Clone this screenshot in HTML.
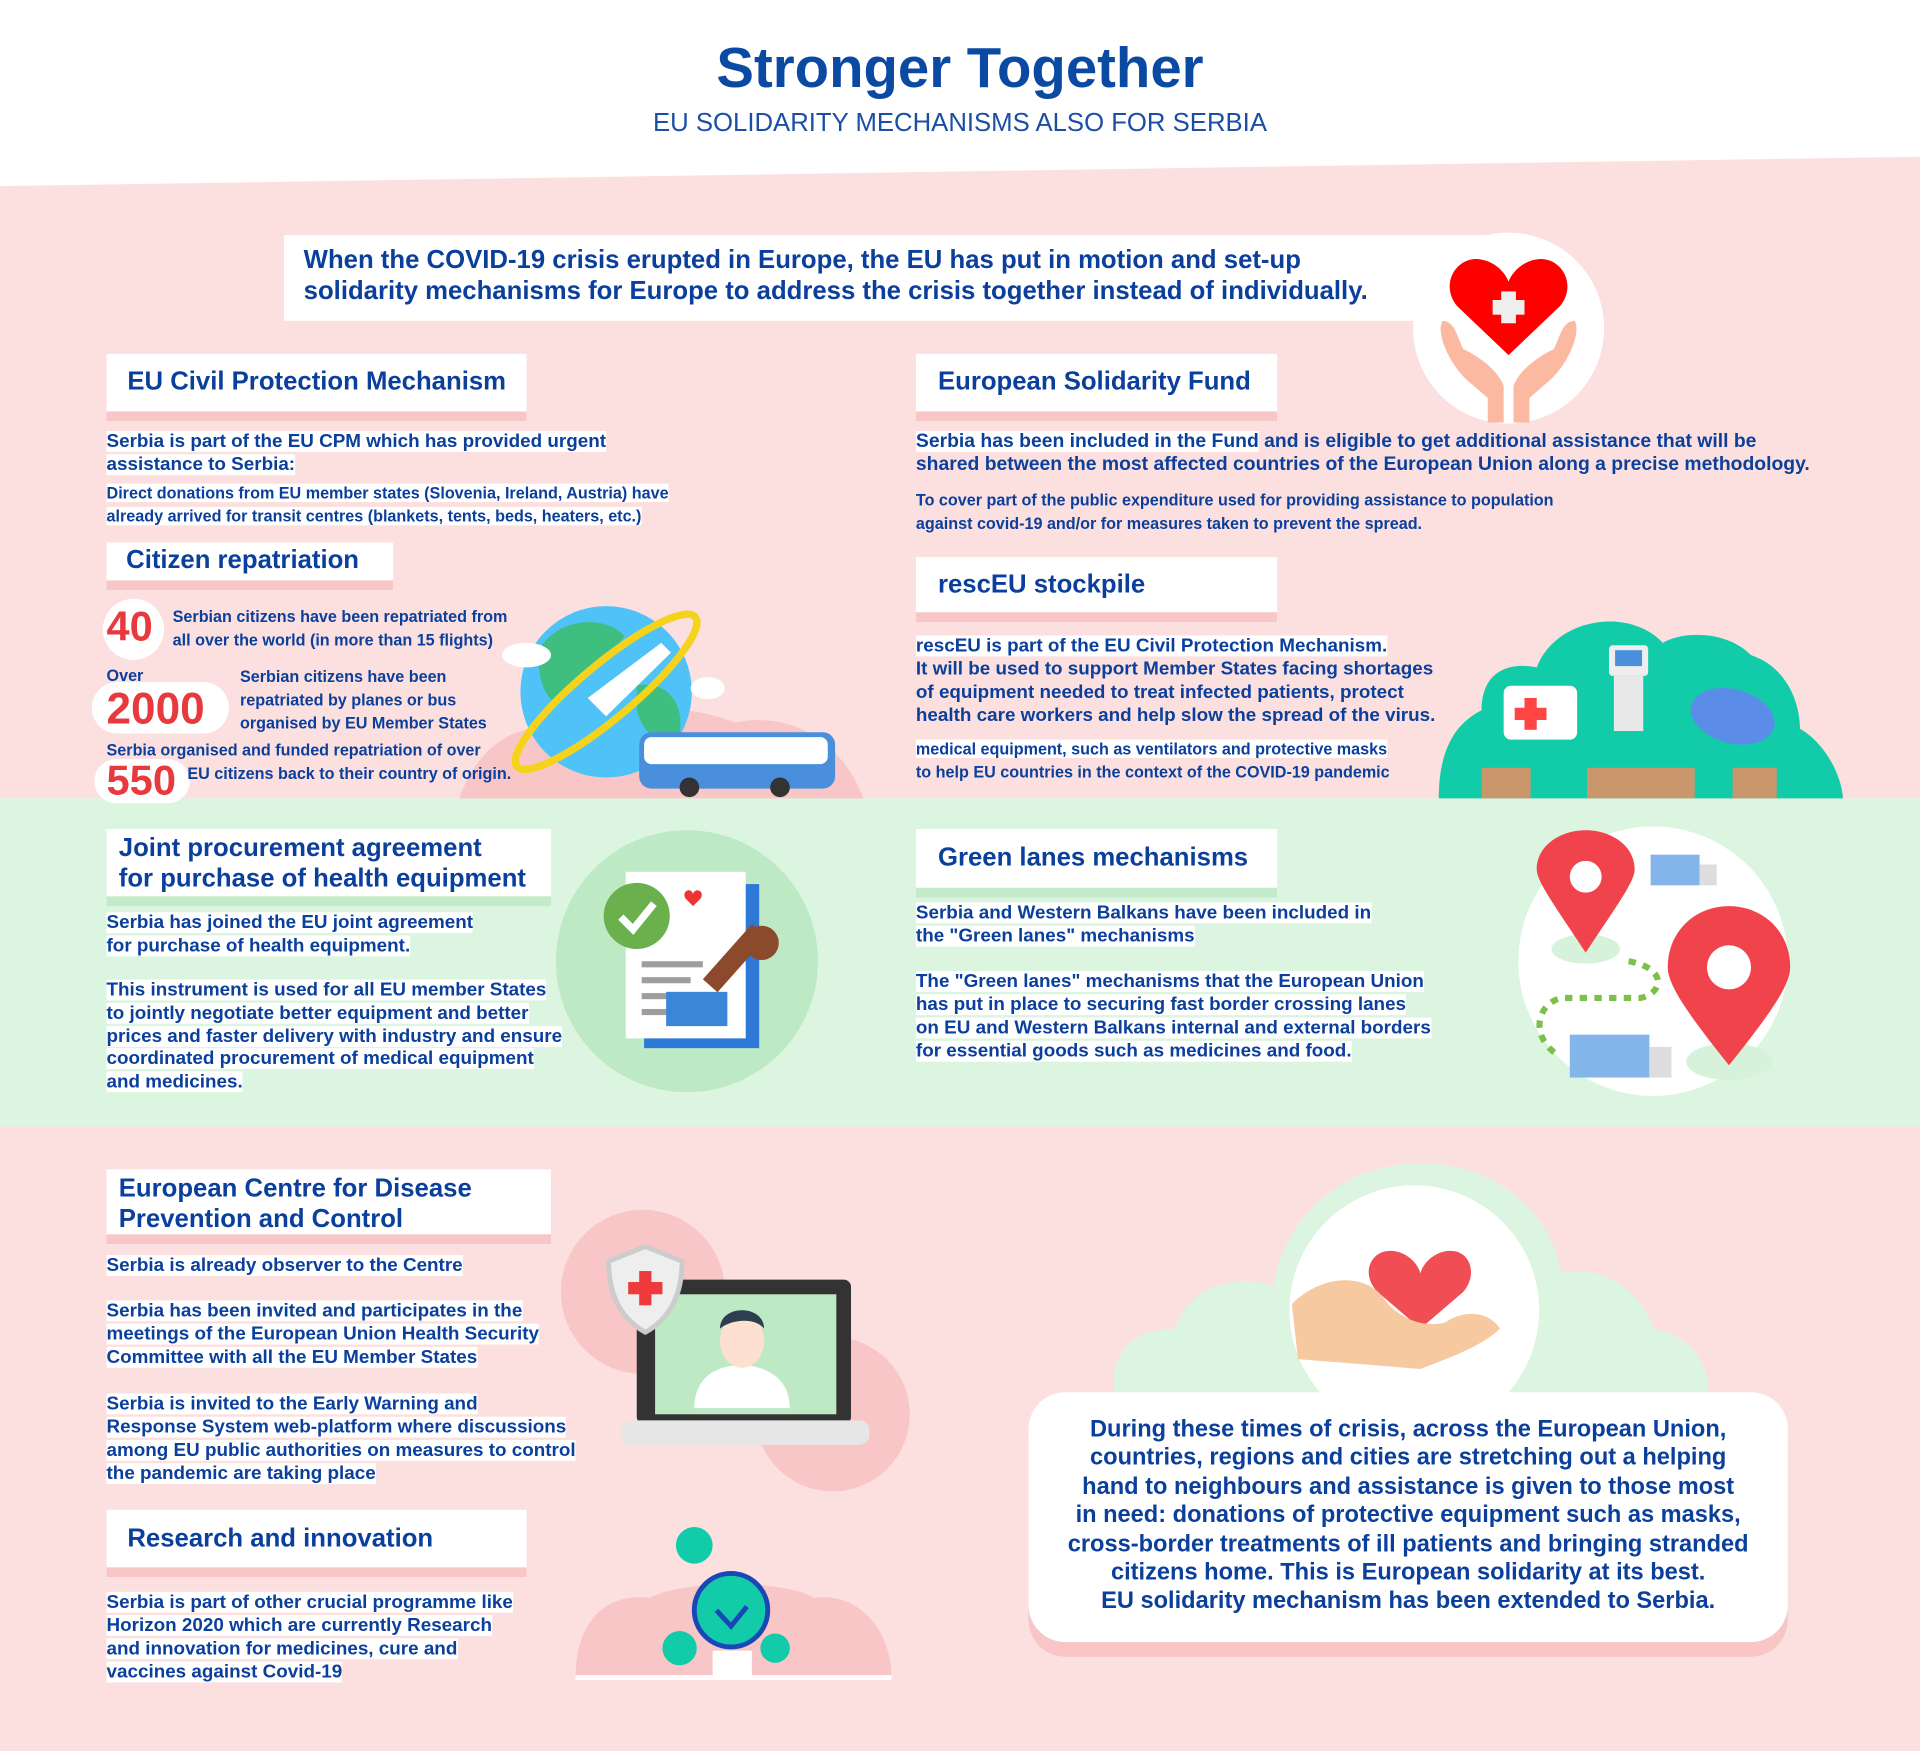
<!DOCTYPE html>
<html><head><meta charset="utf-8"><style>
html,body{margin:0;padding:0;width:1920px;height:1750px;overflow:hidden;background:#fff}
#c{position:absolute;left:0;top:0;width:1568px;height:1430px;transform:scale(1.22449);transform-origin:0 0;font-family:"Liberation Sans",sans-serif;color:#0b3f9c}
.a{position:absolute}
.h{position:absolute;background:#fff;border-bottom:8px solid #f8c6c6;box-sizing:border-box;font-weight:bold;font-size:21px;color:#0b3f9c}
.hg{border-bottom-color:#c3ebc9}
.t{position:absolute;font-weight:bold;font-size:15.4px;line-height:19px;white-space:nowrap}
.t span{background:#fff;box-decoration-break:clone;-webkit-box-decoration-break:clone}
.s{font-size:13.2px}
.num{color:#e8393f;font-weight:bold}
</style></head><body><div id="c">
<svg class="a" style="left:0;top:0" width="1568" height="1430">
<polygon points="0,152 1568,128 1568,652 0,652" fill="#fce0df"/>
<rect x="0" y="652" width="1568" height="268" fill="#dcf5e0"/>
<rect x="0" y="920" width="1568" height="510" fill="#fce0df"/>
<rect x="232" y="192" width="1000" height="70" fill="#fff"/>
<circle cx="1232" cy="268" r="78" fill="#fff"/>
<path d="M1232,290 L1190,250 C1175,232 1190,208 1210,212 C1222,214 1230,224 1232,230 C1234,224 1242,214 1254,212 C1274,208 1289,232 1274,250 Z" fill="#f00"/>
<rect x="1226" y="238" width="12" height="26" fill="#eee"/><rect x="1219" y="245" width="26" height="12" fill="#eee"/>
<path d="M1178,262 C1172,272 1185,300 1200,312 L1215,325 L1215,345 L1228,345 L1228,315 C1222,300 1205,290 1195,285 C1190,275 1188,262 1178,262Z" fill="#fbb9a2"/>
<path d="M1286,262 C1292,272 1279,300 1264,312 L1249,325 L1249,345 L1236,345 L1236,315 C1242,300 1259,290 1269,285 C1274,275 1276,262 1286,262Z" fill="#fbb9a2"/>
<path d="M375,652 C390,610 420,590 455,595 C500,570 560,575 600,590 C650,580 690,610 705,652Z" fill="#f8c6c6"/>
<circle cx="495" cy="565" r="70" fill="#4fc3f7"/>
<path d="M440,530 C460,500 500,505 510,520 C495,540 470,545 460,570 C450,580 438,560 440,530Z M520,560 C540,555 560,570 555,600 C540,610 525,600 520,580Z" fill="#3ebf7f"/>
<ellipse cx="495" cy="565" rx="95" ry="22" transform="rotate(-40 495 565)" fill="none" stroke="#f5d31c" stroke-width="6"/>
<path d="M480,570 L540,525 L548,533 L495,585Z" fill="#fff"/>
<ellipse cx="430" cy="535" rx="20" ry="10" fill="#fff"/><ellipse cx="578" cy="562" rx="14" ry="9" fill="#fff"/>
<rect x="522" y="598" width="160" height="46" rx="10" fill="#4a8fdc"/>
<rect x="526" y="602" width="150" height="22" rx="6" fill="#fff"/>
<circle cx="563" cy="643" r="8" fill="#333"/><circle cx="637" cy="643" r="8" fill="#333"/>
<path d="M1175,652 C1175,610 1190,590 1210,580 C1210,550 1230,540 1255,545 C1270,505 1330,495 1358,525 C1375,515 1410,515 1430,535 C1460,545 1470,575 1470,595 C1495,610 1505,640 1505,652Z" fill="#12cba9"/>
<rect x="1228" y="560" width="60" height="44" rx="6" fill="#fff"/><rect x="1245" y="570" width="10" height="26" fill="#f44"/><rect x="1237" y="578" width="26" height="10" fill="#f44"/>
<rect x="1314" y="527" width="32" height="25" rx="3" fill="#eee"/><rect x="1319" y="531" width="22" height="13" fill="#4a8fdc"/>
<rect x="1318" y="552" width="24" height="45" fill="#e8e8e8"/>
<ellipse cx="1415" cy="585" rx="35" ry="22" fill="#5b8de8" transform="rotate(15 1415 585)"/>
<rect x="1210" y="627" width="40" height="25" fill="#c9976b"/><rect x="1296" y="627" width="88" height="25" fill="#c9976b"/><rect x="1415" y="627" width="36" height="25" fill="#c9976b"/>
<ellipse cx="561" cy="785" rx="107" ry="107" fill="#bdeac4"/>
<rect x="526" y="722" width="94" height="134" fill="#2f79d6"/>
<rect x="511" y="712" width="98" height="136" fill="#fff"/>
<circle cx="520" cy="748" r="27" fill="#6ab04c"/>
<path d="M507,749 L517,759 L534,738" stroke="#fff" stroke-width="6" fill="none"/>
<g fill="#9e9e9e"><rect x="524" y="785" width="50" height="5"/><rect x="524" y="798" width="40" height="5"/><rect x="524" y="811" width="30" height="5"/><rect x="524" y="824" width="30" height="5"/></g>
<rect x="544" y="810" width="50" height="28" fill="#3c86d8"/>
<path d="M580,805 L620,760" stroke="#8a4a2b" stroke-width="16"/><circle cx="622" cy="770" r="14" fill="#8a4a2b"/>
<path d="M560,734 C556,728 564,724 566,730 C568,724 576,728 572,734 L566,740Z" fill="#e33"/>
<circle cx="1350" cy="785" r="110" fill="#fff"/>
<ellipse cx="1295" cy="775" rx="28" ry="12" fill="#d7f2da"/><ellipse cx="1412" cy="867" rx="35" ry="15" fill="#d7f2da"/>
<path d="M1295,778 C1270,740 1255,720 1255,710 C1255,690 1275,678 1295,678 C1315,678 1335,690 1335,710 C1335,720 1320,740 1295,778Z" fill="#f0434b"/>
<circle cx="1295" cy="716" r="13" fill="#fff"/>
<path d="M1412,870 C1380,830 1362,805 1362,790 C1362,760 1385,740 1412,740 C1439,740 1462,760 1462,790 C1462,805 1444,830 1412,870Z" fill="#f0434b"/>
<circle cx="1412" cy="790" r="18" fill="#fff"/>
<path d="M1330,785 C1360,790 1360,810 1340,815 L1275,815 C1255,820 1250,845 1270,860" stroke="#7cc04a" stroke-width="5" stroke-dasharray="6,6" fill="none"/>
<rect x="1348" y="698" width="40" height="25" fill="#83b5ea"/><rect x="1388" y="706" width="14" height="17" fill="#ddd"/>
<rect x="1282" y="845" width="65" height="35" fill="#83b5ea"/><rect x="1347" y="855" width="18" height="25" fill="#ddd"/>
<circle cx="525" cy="1055" r="67" fill="#f8c6c6"/><circle cx="680" cy="1155" r="63" fill="#f8c6c6"/>
<rect x="520" y="1045" width="175" height="118" rx="6" fill="#333"/>
<rect x="535" y="1057" width="148" height="98" fill="#bdeac4"/>
<path d="M567,1150 C567,1125 585,1115 605,1115 C625,1115 645,1125 645,1150Z" fill="#fff"/>
<ellipse cx="606" cy="1095" rx="18" ry="22" fill="#fde0cf"/>
<path d="M588,1085 C588,1065 624,1065 624,1085 C616,1075 596,1078 588,1085Z" fill="#2c3e50"/>
<rect x="507" y="1160" width="203" height="20" rx="8" fill="#e6e6e6"/>
<path d="M527,1018 L557,1030 C557,1060 545,1078 527,1088 C509,1078 497,1060 497,1030Z" fill="#eee" stroke="#ccc" stroke-width="4"/>
<rect x="522" y="1038" width="10" height="28" fill="#ee3a3a"/><rect x="513" y="1047" width="28" height="10" fill="#ee3a3a"/>
<path d="M470,1370 C470,1330 490,1300 530,1305 C560,1290 640,1290 665,1305 C700,1300 728,1330 728,1370Z" fill="#f8c6c6"/>
<rect x="470" y="1368" width="258" height="4" fill="#fff"/>
<circle cx="597" cy="1315" r="30" fill="#12cba9" stroke="#1a47b8" stroke-width="4"/>
<path d="M585,1315 L597,1328 L610,1312" stroke="#1a47b8" stroke-width="4" fill="none"/>
<circle cx="567" cy="1262" r="15" fill="#12cba9"/><circle cx="555" cy="1346" r="14" fill="#12cba9"/><circle cx="633" cy="1346" r="12" fill="#12cba9"/>
<rect x="582" y="1348" width="32" height="22" fill="#fff"/>
<path d="M910,1140 C905,1100 930,1085 960,1085 C970,1050 1010,1040 1040,1050 C1050,990 1100,950 1160,950 C1230,950 1270,1000 1275,1040 C1310,1030 1345,1060 1350,1085 C1380,1090 1398,1115 1395,1140Z" fill="#dcf5e0"/>
<circle cx="1155" cy="1070" r="102" fill="#fff"/>
<path d="M1160,1085 L1125,1055 C1110,1040 1120,1018 1140,1022 C1150,1024 1158,1032 1160,1040 C1162,1032 1170,1024 1180,1022 C1200,1018 1208,1040 1195,1055Z" fill="#f04d55"/>
<path d="M1055,1065 C1080,1040 1115,1040 1130,1060 C1140,1075 1160,1085 1180,1080 C1195,1070 1215,1070 1225,1085 C1210,1100 1180,1110 1160,1118 L1060,1110Z" fill="#f6c9a0"/>
<rect x="840" y="1149" width="620" height="204" rx="30" fill="#f8c6c6"/>
<rect x="840" y="1137" width="620" height="204" rx="30" fill="#fff"/>
</svg>

<div class="a" style="left:0;top:28px;width:1568px;text-align:center;font-weight:bold;font-size:46px;color:#0b4aa3">Stronger Together</div>
<div class="a" style="left:0;top:89px;width:1568px;text-align:center;font-size:21px;color:#1a4fa5">EU SOLIDARITY MECHANISMS ALSO FOR SERBIA</div>
<div class="t" style="left:248px;top:200px;font-size:21px;line-height:25px">When the COVID-19 crisis erupted in Europe, the EU has put in motion and set-up<br>solidarity mechanisms for Europe to address the crisis together instead of individually.</div>

<div class="h" style="left:87px;top:289px;width:343px;height:55px;padding:11px 0 0 17px">EU Civil Protection Mechanism</div>
<div class="t" style="left:87px;top:351px"><span>Serbia is part of the EU CPM which has provided urgent<br>assistance to Serbia:</span></div>
<div class="t s" style="left:87px;top:393px"><span>Direct donations from EU member states (Slovenia, Ireland, Austria) have<br>already arrived for transit centres (blankets, tents, beds, heaters, etc.)</span></div>

<div class="h" style="left:87px;top:443px;width:234px;height:39px;padding:3px 0 0 16px">Citizen repatriation</div>
<div class="a" style="left:84px;top:489px;width:50px;height:50px;border-radius:50%;background:#fff"></div>
<div class="a num" style="left:87px;top:493px;font-size:34px">40</div>
<div class="t s" style="left:141px;top:494px">Serbian citizens have been repatriated from<br>all over the world (in more than 15 flights)</div>
<div class="t s" style="left:87px;top:542px">Over</div>
<div class="a" style="left:75px;top:557px;width:112px;height:42px;border-radius:21px;background:#fff"></div>
<div class="a num" style="left:87px;top:558px;font-size:36px">2000</div>
<div class="t s" style="left:196px;top:543px">Serbian citizens have been<br>repatriated by planes or bus<br>organised by EU Member States</div>
<div class="t s" style="left:87px;top:603px">Serbia organised and funded repatriation of over</div>
<div class="a" style="left:77px;top:620px;width:78px;height:36px;border-radius:18px;background:#fff"></div>
<div class="a num" style="left:87px;top:619px;font-size:34px">550</div>
<div class="t s" style="left:153px;top:622px">EU citizens back to their country of origin.</div>

<div class="h" style="left:748px;top:289px;width:295px;height:55px;padding:11px 0 0 18px">European Solidarity Fund</div>
<div class="t" style="left:748px;top:351px;font-size:15.8px"><span>Serbia has been included in the Fund</span> and is eligible to get additional assistance that will be<br>shared between the most affected countries of the European Union along a precise methodology.</div>
<div class="t s" style="left:748px;top:399px">To cover part of the public expenditure used for providing assistance to population<br>against covid-19 and/or for measures taken to prevent the spread.</div>

<div class="h" style="left:748px;top:455px;width:295px;height:53px;padding:11px 0 0 18px">rescEU stockpile</div>
<div class="t" style="left:748px;top:518px"><span>rescEU is part of the EU Civil Protection Mechanism.</span><br>It will be used to support Member States facing shortages<br>of equipment needed to treat infected patients, protect<br>health care workers and help slow the spread of the virus.</div>
<div class="t s" style="left:748px;top:602px"><span>medical equipment, such as ventilators and protective masks</span><br>to help EU countries in the context of the COVID-19 pandemic</div>

<div class="h hg" style="left:87px;top:677px;width:363px;height:63px;padding:3px 0 0 10px;line-height:25px">Joint procurement agreement<br>for purchase of health equipment</div>
<div class="t" style="left:87px;top:744px"><span>Serbia has joined the EU joint agreement<br>for purchase of health equipment.</span></div>
<div class="t" style="left:87px;top:800px;line-height:18.8px"><span>This instrument is used for all EU member States<br>to jointly negotiate better equipment and better<br>prices and faster delivery with industry and ensure<br>coordinated procurement of medical equipment<br>and medicines.</span></div>

<div class="h hg" style="left:748px;top:677px;width:295px;height:56px;padding:12px 0 0 18px">Green lanes mechanisms</div>
<div class="t" style="left:748px;top:736px"><span>Serbia and Western Balkans have been included in<br>the "Green lanes" mechanisms</span></div>
<div class="t" style="left:748px;top:792px"><span>The "Green lanes" mechanisms that the European Union<br>has put in place to securing fast border crossing lanes<br>on EU and Western Balkans internal and external borders<br>for essential goods such as medicines and food.</span></div>

<div class="h" style="left:87px;top:955px;width:363px;height:61px;padding:3px 0 0 10px;line-height:25px">European Centre for Disease<br>Prevention and Control</div>
<div class="t" style="left:87px;top:1024px"><span>Serbia is already observer to the Centre</span></div>
<div class="t" style="left:87px;top:1061px"><span>Serbia has been invited and participates in the<br>meetings of the European Union Health Security<br>Committee with all the EU Member States</span></div>
<div class="t" style="left:87px;top:1137px"><span>Serbia is invited to the Early Warning and<br>Response System web-platform where discussions<br>among EU public authorities on measures to control<br>the pandemic are taking place</span></div>

<div class="h" style="left:87px;top:1233px;width:343px;height:55px;padding:12px 0 0 17px">Research and innovation</div>
<div class="t" style="left:87px;top:1299px"><span>Serbia is part of other crucial programme like<br>Horizon 2020 which are currently Research<br>and innovation for medicines, cure and<br>vaccines against Covid-19</span></div>

<div class="t" style="left:840px;top:1156px;width:620px;text-align:center;font-size:19.3px;line-height:23.4px;white-space:normal">During these times of crisis, across the European Union,<br>countries, regions and cities are stretching out a helping<br>hand to neighbours and assistance is given to those most<br>in need: donations of protective equipment such as masks,<br>cross-border treatments of ill patients and bringing stranded<br>citizens home. <b style="font-weight:900">This is European solidarity at its best.</b><br>EU solidarity mechanism has been extended to Serbia.</div>
</div></body></html>
